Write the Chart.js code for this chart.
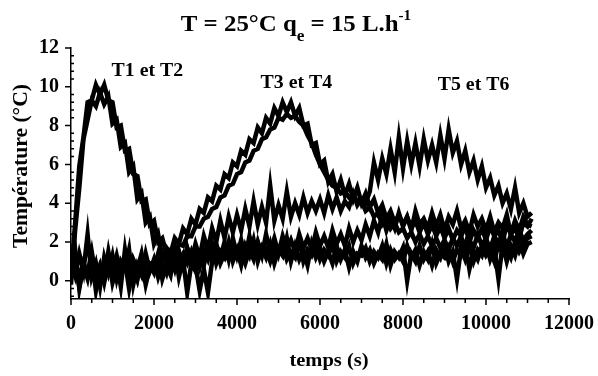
<!DOCTYPE html>
<html lang="fr">
<head>
<meta charset="utf-8">
<title>T = 25°C, qe = 15 L/h</title>
<script src="https://cdn.jsdelivr.net/npm/chart.js@4.4.1/dist/chart.umd.min.js"></script>
<style>
  html, body { margin: 0; padding: 0; background: #fff; }
  #cadre { width: 598px; height: 376px; }
</style>
</head>
<body>
<div id="cadre"><canvas id="graphe" width="598" height="376"></canvas></div>
<script>
// acquisition toutes les 100 s, de 0 a 11100 s
const pasTemps = 100;

const T1 = [
  0.3, 3.0, 5.9, 7.4, 9.2, 9.3, 10.1, 9.6, 10.1, 9.3,
  9.2, 7.9, 8.0, 6.7, 6.8, 5.5, 5.4, 4.1, 4.2, 2.9,
  3.1, 2.0, 2.2, 1.4, 1.6, 0.9, 1.5, 0.8, 1.7, 1.0,
  1.4, 0.7, 1.6, 1.1, 1.9, 0.9, 1.5, 1.2, 2.0, 1.0,
  1.6, 0.8, 1.8, 1.3, 2.1, 1.0, 1.7, 1.2, 1.9, 0.9,
  1.6, 1.3, 2.2, 1.0, 1.8, 1.1, 1.6, 0.8, 1.9, 1.2,
  1.7, 1.0, 1.5, 0.9, 1.8, 1.1, 1.6, 0.7, 1.5, 1.0,
  1.8, 1.2, 1.6, 0.9, 1.4, 1.1, 1.9, 0.8, 1.5, 1.2,
  1.7, 0.0, 1.4, 1.0, 1.8, 1.1, 1.5, 0.8, 1.6, 1.2,
  1.9, 1.0, 1.5, 0.1, 1.7, 1.1, 1.8, 1.0, 1.6, 1.3,
  2.0, 1.1, 1.7, 0.1, 1.9, 1.0, 1.8, 1.3, 2.1, 1.4,
  1.9, 2.0
];
const T2 = [
  -0.2, 2.6, 4.8, 7.3, 8.3, 9.3, 9.0, 9.7, 9.1, 9.5,
  8.1, 8.3, 6.9, 7.1, 5.6, 5.9, 4.2, 4.5, 3.0, 3.3,
  1.9, 2.4, 1.2, 1.3, 0.7, 1.2, 0.6, 1.3, 0.9, 1.5,
  0.8, -0.5, 0.6, -0.6, 1.0, 1.7, 0.9, 1.4, 1.1, 1.8,
  1.2, 1.5, 0.9, 1.6, 1.1, 2.0, 1.3, 1.6, 1.0, 1.7,
  1.4, 1.9, 1.1, 1.5, 1.2, 2.1, 1.0, 1.6, 1.3, 1.8,
  1.1, 1.6, 1.3, 1.9, 1.0, 1.5, 1.2, 1.8, 0.9, 1.4,
  1.3, 1.7, 1.0, 1.5, 1.2, 1.8, 0.9, 1.6, 1.1, 1.4,
  1.0, 1.8, 1.2, 1.6, 0.8, 1.5, 1.1, 1.9, 0.9, 1.4,
  1.2, 1.7, 1.0, 1.6, 1.3, 1.9, 0.6, 1.5, 1.1, 1.8,
  1.3, 1.6, 1.0, 1.9, 1.4, 1.7, 1.2, 2.0, 1.5, 1.9,
  2.2, 2.3
];
const T3 = [
  0.6, 1.2, 0.1, 0.9, 0.4, 1.5, 0.2, 0.8, -0.1, 1.0,
  0.5, 1.3, 0.3, 0.9, 0.0, 1.1, 0.6, 1.4, 0.2, 0.8,
  0.4, 1.2, 0.9, 1.7, 1.4, 2.2, 1.9, 2.7, 2.4, 3.2,
  2.9, 3.7, 3.5, 4.3, 4.1, 4.9, 4.7, 5.5, 5.3, 6.1,
  5.9, 6.7, 6.5, 7.3, 7.1, 7.9, 7.6, 8.4, 8.1, 8.9,
  8.5, 9.2, 8.7, 9.2, 8.5, 8.9, 8.0, 8.1, 7.0, 7.1,
  6.0, 6.2, 5.1, 5.5, 4.6, 5.2, 4.4, 5.0, 4.2, 4.8,
  4.0, 4.5, 3.8, 4.2, 3.5, 3.9, 3.2, 3.6, 3.0, 3.4,
  2.9, 3.3, 2.7, 3.1, 2.5, 3.0, 2.4, 2.9, 2.3, 2.8,
  2.2, 2.7, 2.1, 2.6, 2.3, 2.8, 2.0, 2.6, 2.2, 2.7,
  2.1, 2.8, 2.3, 2.6, 2.0, 2.9, 2.4, 2.7, 2.2, 3.0,
  2.8, 3.2
];
const T4 = [
  0.1, 0.9, -0.3, 0.7, 0.2, 1.1, -0.2, 0.6, 0.3, 1.3,
  -0.1, 0.7, 0.2, 1.0, -0.4, 0.8, 0.1, 1.2, 0.4, 0.9,
  0.8, 0.5, 1.2, 1.0, 1.5, 1.4, 1.9, 1.8, 2.3, 2.3,
  2.8, 2.8, 3.2, 3.3, 3.7, 3.8, 4.3, 4.4, 4.9, 5.0,
  5.5, 5.6, 6.1, 6.2, 6.7, 6.8, 7.3, 7.4, 7.8, 7.9,
  8.4, 8.3, 8.6, 8.4, 8.5, 8.2, 8.0, 7.5, 7.1, 6.5,
  6.0, 5.6, 5.2, 4.9, 4.8, 4.5, 4.6, 4.3, 4.4, 4.1,
  4.1, 3.6, 3.8, 3.3, 3.5, 2.9, 3.2, 2.7, 3.0, 2.5,
  2.7, 2.2, 2.5, 2.0, 2.4, 1.9, 2.3, 1.8, 2.2, 1.7,
  2.1, 1.6, 2.2, 1.8, 2.3, 1.5, 2.1, 1.7, 2.4, 1.8,
  2.2, 1.6, 2.3, 1.9, 2.5, 1.7, 2.4, 2.0, 2.6, 2.1,
  2.4, 2.6
];
const T5 = [
  1.1, 0.3, 1.4, 0.5, 2.4, 0.2, 0.9, -0.3, 1.2, 0.4,
  1.3, 0.1, 1.0, 0.6, 1.6, -0.2, 0.8, 0.3, 1.4, 0.5,
  1.1, 0.2, 0.9, 0.4, 1.3, 0.6, 1.5, 0.8, 1.7, 1.0,
  1.9, 1.2, 2.3, 1.6, 2.7, 2.0, 3.1, 2.2, 3.3, 2.5,
  3.4, 2.6, 3.7, 2.8, 4.1, 2.9, 3.8, 3.0, 4.9, 3.1,
  3.9, 3.2, 4.6, 3.3, 4.0, 3.4, 4.3, 3.5, 4.1, 3.6,
  4.2, 3.5, 4.4, 3.7, 4.3, 3.6, 4.1, 3.8, 4.5, 3.9,
  4.2, 4.0, 4.6, 6.1, 5.2, 6.3, 5.5, 6.8, 5.6, 7.4,
  5.8, 7.2, 6.0, 7.1, 5.9, 7.3, 6.2, 7.0, 6.1, 7.5,
  6.3, 7.8, 6.6, 7.2, 6.0, 6.7, 5.6, 6.2, 5.2, 5.9,
  4.8, 5.3, 4.4, 4.9, 4.0, 4.5, 3.7, 4.8, 3.5, 4.0,
  3.3, 3.5
];
const T6 = [
  0.4, 1.6, -0.4, 0.8, 0.1, 1.2, -0.5, 0.7, 0.2, 1.5,
  0.3, 1.0, -0.3, 1.6, 0.2, 0.9, 0.1, 1.1, -0.2, 0.7,
  0.6, 1.4, 0.1, 0.8, 0.3, 1.6, 0.2, 1.1, -0.6, 0.9,
  0.5, 1.3, 0.8, 1.7, 1.0, 1.9, 1.2, 2.0, 1.1, 2.2,
  1.3, 2.1, 1.2, 2.3, 1.4, 2.0, 1.3, 2.4, 1.5, 2.2,
  1.4, 2.3, 1.6, 2.1, 1.5, 2.4, 1.7, 2.2, 1.6, 2.5,
  1.8, 2.3, 1.7, 2.6, 1.9, 2.4, 1.8, 2.7, 2.0, 2.6,
  2.1, 2.9, 2.3, 3.1, 2.5, 3.4, 2.6, 3.2, 2.7, 3.5,
  2.8, 3.3, 2.6, 3.6, 2.9, 3.2, 2.7, 3.5, 2.8, 3.4,
  2.6, 3.3, 2.9, 3.6, 2.7, 3.1, 2.5, 3.4, 2.8, 3.2,
  2.6, 3.3, 2.5, 3.0, 2.7, 3.4, 2.4, 3.1, 2.6, 3.3,
  2.9, 2.8
];

const series = [T1, T2, T3, T4, T5, T6];
const nomsSeries = ['T1', 'T2', 'T3', 'T4', 'T5', 'T6'];

// graduations
const ticksX = [0, 2000, 4000, 6000, 8000, 10000, 12000];
const ticksY = [0, 2, 4, 6, 8, 10, 12];

// etiquettes des paires, en coordonnees (temps, temperature)
const etiquettes = ['T1 et T2', 'T3 et T4', 'T5 et T6'];
const etiquettesT = [1840, 5430, 9700];
const etiquettesV = [10.8, 10.2, 10.05];

const police = '"Liberation Serif", "Times New Roman", serif';

// texte un peu elargi, comme sur la figure scannee
function texte(ctx, str, x, y, etirement) {
  ctx.save();
  ctx.translate(x, y);
  ctx.scale(etirement, 1);
  ctx.fillText(str, 0, 0);
  ctx.restore();
}

const decor = {
  id: 'decor',
  afterDraw(chart) {
    const ctx = chart.ctx;
    const x = chart.scales.x, y = chart.scales.y;
    const zone = chart.chartArea;
    ctx.save();
    ctx.strokeStyle = '#000';
    ctx.lineWidth = 1.5;
    ctx.beginPath();
    // graduations en x tous les 500 s
    for (let k = 0; k <= 24; k++) {
      const px = x.getPixelForValue(k * 500);
      const l = k % 4 === 0 ? 6 : 4;
      ctx.moveTo(px, zone.bottom);
      ctx.lineTo(px, zone.bottom + l);
    }
    // en y : grandes vers l'exterieur, petites vers l'interieur
    for (let k = 0; k <= 32; k++) {
      const py = y.getPixelForValue(12 - k * 0.4);
      ctx.moveTo(zone.left, py);
      ctx.lineTo(k % 5 === 0 ? zone.left - 6 : zone.left + 3, py);
    }
    ctx.stroke();

    ctx.fillStyle = '#000';
    ctx.textAlign = 'center';
    ctx.textBaseline = 'middle';

    ctx.font = 'bold 18px ' + police;
    etiquettes.forEach((txt, i) => {
      texte(ctx, txt, x.getPixelForValue(etiquettesT[i]), y.getPixelForValue(etiquettesV[i]), 1.1);
    });

    ctx.font = 'bold 19px ' + police;
    texte(ctx, 'temps (s)', 329, 361, 1.08);
    ctx.save();
    ctx.translate(22, 166);
    ctx.rotate(-Math.PI / 2);
    ctx.font = 'bold 20px ' + police;
    texte(ctx, 'Température (°C)', 0, 0, 1.08);
    ctx.restore();

    // titre avec indice et exposant
    const etir = 1.08;
    const morceaux = [
      { t: 'T = 25°C q', taille: 23, dy: 0 },
      { t: 'e', taille: 16, dy: 10 },
      { t: ' = 15 L.h', taille: 23, dy: 0 },
      { t: '-1', taille: 14, dy: -11 }
    ];
    ctx.textAlign = 'left';
    ctx.textBaseline = 'alphabetic';
    let largeur = 0;
    morceaux.forEach(m => {
      ctx.font = 'bold ' + m.taille + 'px ' + police;
      m.l = ctx.measureText(m.t).width * etir;
      largeur += m.l;
    });
    let cx = 296 - largeur / 2;
    morceaux.forEach(m => {
      ctx.font = 'bold ' + m.taille + 'px ' + police;
      texte(ctx, m.t, cx, 31 + m.dy, etir);
      cx += m.l;
    });
    ctx.restore();
  }
};

const policeTicks = { family: police, size: 20, weight: 'bold' };

new Chart(document.getElementById('graphe'), {
  type: 'line',
  data: {
    datasets: series.map((s, i) => ({
      label: nomsSeries[i],
      data: s.map((v, j) => ({ x: j * pasTemps, y: v })),
      borderColor: '#000',
      borderWidth: 4.5,
      pointRadius: 0,
      tension: 0,
      fill: false
    }))
  },
  options: {
    responsive: false,
    animation: false,
    devicePixelRatio: 1,
    layout: { padding: { top: 48, right: 29, left: 0, bottom: 0 } },
    plugins: { legend: { display: false }, tooltip: { enabled: false } },
    scales: {
      x: {
        type: 'linear',
        min: 0,
        max: 12000,
        afterBuildTicks: s => { s.ticks = ticksX.map(v => ({ value: v })); },
        afterFit: s => { s.height = 77; s.paddingLeft = 0; s.paddingRight = 0; },
        grid: { display: false, drawTicks: false },
        border: { display: true, color: '#000', width: 1.5 },
        ticks: {
          color: '#000', font: policeTicks, padding: 13, maxRotation: 0, autoSkip: false,
          callback: v => String(v)
        }
      },
      y: {
        type: 'linear',
        min: -0.94,
        max: 12,
        afterBuildTicks: s => { s.ticks = ticksY.map(v => ({ value: v })); },
        afterFit: s => { s.width = 71; },
        grid: { display: false, drawTicks: false },
        border: { display: true, color: '#000', width: 1.5 },
        ticks: { color: '#000', font: policeTicks, padding: 12, autoSkip: false }
      }
    }
  },
  plugins: [decor]
});
</script>
</body>
</html>
